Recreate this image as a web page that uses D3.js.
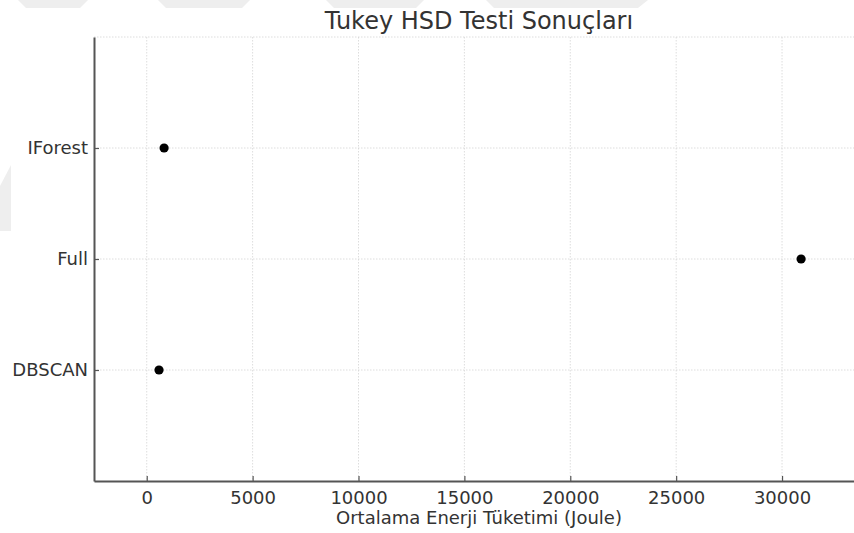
<!DOCTYPE html>
<html>
<head>
<meta charset="utf-8">
<script src="https://cdn.jsdelivr.net/npm/d3@7"></script>
<style>
  html, body { margin: 0; padding: 0; background: #ffffff; }
  svg { display: block; }
  text { font-family: "DejaVu Sans", sans-serif; }
</style>
</head>
<body>
<svg id="chart" width="854" height="533"></svg>
<script>
// ---- data ----
const categories = ["DBSCAN", "Full", "IForest"];
const meanEnergy = [580, 30900, 820];
const xTickValues = [0, 5000, 10000, 15000, 20000, 25000, 30000];
const xDomain = [-2490, 33870];
const titleText = "Tukey HSD Testi Sonuçları";
const xLabelText = "Ortalama Enerji Tüketimi (Joule)";

const W = 854, H = 533;
const margin = { left: 94, right: -10, top: 37, bottom: 52 };
const svg = d3.select("#chart");

// faint watermark shapes in the background of the source image
const wm = svg.append("g").attr("fill", "#eeeeee");
[
  [[18, 0], [88, 0], [80, 8], [26, 8]],
  [[158, 0], [250, 0], [242, 8], [166, 8]],
  [[326, 0], [424, 0], [416, 8], [334, 8]],
  [[486, 0], [648, 0], [638, 8], [494, 8]],
  [[0, 186], [11, 165], [11, 231], [0, 231]]
].forEach(p => wm.append("polygon").attr("points", p.map(q => q.join(",")).join(" ")));

const x = d3.scaleLinear().domain(xDomain).range([margin.left, W - margin.right]);
const y = d3.scaleLinear().domain([-1, categories.length]).range([H - margin.bottom, margin.top]);

const plotL = margin.left, plotR = W - margin.right, plotT = margin.top, plotB = H - margin.bottom;

// grid
const grid = svg.append("g").attr("stroke", "#d4d4d4").attr("stroke-width", 0.8)
  .attr("stroke-dasharray", "1.5,1.5");
xTickValues.forEach(v => {
  grid.append("line").attr("x1", x(v)).attr("x2", x(v)).attr("y1", plotT).attr("y2", plotB);
});
categories.forEach((c, i) => {
  grid.append("line").attr("x1", plotL).attr("x2", plotR).attr("y1", y(i)).attr("y2", y(i));
});
grid.append("line").attr("x1", plotL).attr("x2", plotR).attr("y1", plotT).attr("y2", plotT);

// x axis
const xAxis = d3.axisBottom(x).tickValues(xTickValues).tickFormat(d3.format("d"))
  .tickSizeInner(-5).tickSizeOuter(0).tickPadding(10);
const gx = svg.append("g").attr("transform", `translate(0,${plotB})`).call(xAxis);
gx.select(".domain").attr("stroke", "#555").attr("stroke-width", 2);
gx.selectAll(".tick line").attr("stroke", "#555").attr("stroke-width", 1.2);
gx.selectAll(".tick text").attr("fill", "#333").style("font-size", "18px")
  .style("font-family", "DejaVu Sans, sans-serif");

// y axis
const yAxis = d3.axisLeft(y).tickValues(categories.map((c, i) => i))
  .tickFormat(i => categories[i]).tickSizeInner(-5).tickSizeOuter(0).tickPadding(6);
const gy = svg.append("g").attr("transform", `translate(${plotL},0)`).call(yAxis);
gy.select(".domain").attr("stroke", "#555").attr("stroke-width", 2);
gy.selectAll(".tick line").attr("stroke", "#555").attr("stroke-width", 1.2);
gy.selectAll(".tick text").attr("fill", "#333").style("font-size", "18px")
  .style("font-family", "DejaVu Sans, sans-serif");

// points
svg.append("g").selectAll("circle").data(meanEnergy).join("circle")
  .attr("cx", d => x(d)).attr("cy", (d, i) => y(i)).attr("r", 4.6).attr("fill", "#000");

// title
svg.append("text").attr("x", (plotL + plotR) / 2).attr("y", 29).attr("text-anchor", "middle")
  .attr("fill", "#333").style("font-size", "24px").text(titleText);

// x label
svg.append("text").attr("x", (plotL + plotR) / 2).attr("y", 524).attr("text-anchor", "middle")
  .attr("fill", "#333").style("font-size", "18px").text(xLabelText);
</script>
</body>
</html>
